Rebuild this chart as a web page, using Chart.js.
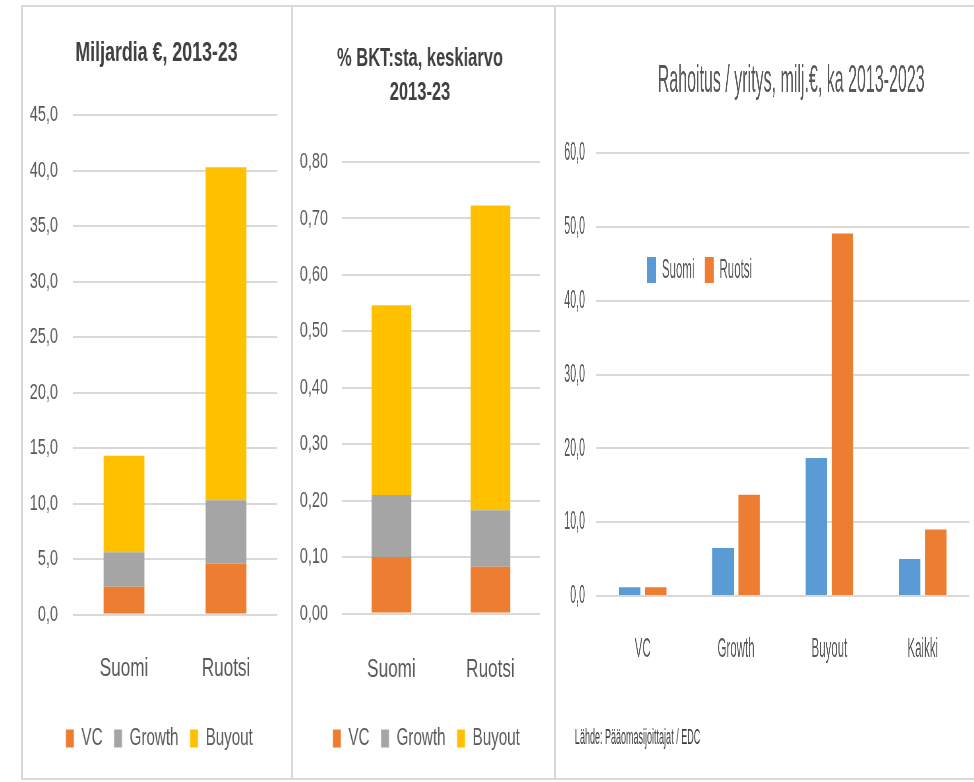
<!DOCTYPE html>
<html>
<head>
<meta charset="utf-8">
<script src="https://cdn.jsdelivr.net/npm/chart.js@4.4.0/dist/chart.umd.min.js"></script>
<style>
  html, body { margin: 0; padding: 0; background: #fff; }
  body { width: 974px; height: 782px; position: relative; overflow: hidden; }
  .frame { position: absolute; border: 2px solid #d9d9d9; box-sizing: border-box; }
  .wrap { position: absolute; top: 7px; height: 771px; transform-origin: 0 0; }
  .note { position: absolute; left: 46px; top: 717px; font: 22px 'Liberation Sans', sans-serif;
          line-height: 26px; color: #404040; white-space: nowrap; }
</style>
</head>
<body>
<div class="frame" style="left:21px;top:5px;width:272px;height:775px"></div>
<div class="frame" style="left:291px;top:5px;width:265px;height:775px"></div>
<div class="frame" style="left:554px;top:5px;width:440px;height:775px"></div>

<!-- text in the picture is very narrow, so each canvas is drawn wide and squeezed -->
<div class="wrap" style="left:22px;width:409px;transform:scaleX(0.66)"><canvas id="bn-chart"></canvas></div>
<div class="wrap" style="left:293px;width:397px;transform:scaleX(0.66)"><canvas id="gdp-chart"></canvas></div>
<div class="wrap" style="left:556px;width:1019.5px;transform:scaleX(0.41)">
  <canvas id="company-chart"></canvas>
  <div class="note">Lähde: Pääomasijoittajat / EDC</div>
</div>

<script>
// data
const countries = ['Suomi', 'Ruotsi'];
const vcBn = [2.5, 4.6];
const growthBn = [3.1, 5.7];
const buyoutBn = [8.7, 30.0];

const vcGdp = [0.10, 0.083];
const growthGdp = [0.11, 0.10];
const buyoutGdp = [0.336, 0.54];

const stages = ['VC', 'Growth', 'Buyout', 'Kaikki'];
const perCompanyFi = [1.2, 6.5, 18.7, 5.0];
const perCompanySe = [1.2, 13.7, 49.1, 9.0];

const ORANGE = '#ED7D31', GREY = '#A5A5A5', YELLOW = '#FFC000', BLUE = '#5B9BD5';

Chart.defaults.font.family = "'Liberation Sans', sans-serif";
Chart.defaults.color = '#595959';
Chart.defaults.animation = false;
Chart.defaults.plugins.tooltip.enabled = false;

const comma = (d) => (v) => Number(v).toFixed(d).replace('.', ',');

// nudges title / legend after layout (the picture centres them on the whole panel)
const placeBoxes = {
    id: 'placeBoxes',
    afterLayout(chart, args, opts) {
        const t = chart.titleBlock;
        const lg = chart.legend;
        if (t && opts.titleX !== undefined) {
            const w = t.right - t.left;
            t.left = opts.titleX - w / 2;
            t.right = t.left + w;
        }
        if (lg && opts.legendDx) {
            lg.left += opts.legendDx;
            lg.right += opts.legendDx;
        }
        if (lg && opts.legendAt) {
            const h = lg.height;
            lg.left = opts.legendAt.left;
            lg.top = opts.legendAt.top;
            lg.bottom = lg.top + h;
        }
    }
};

// stacked chart used by the two left panels
function stackedChart(id, title, vc, growth, buyout, yMax, yStep, decimals, dims) {
    return new Chart(document.getElementById(id), {
        type: 'bar',
        data: {
            labels: countries,
            datasets: [
                { label: 'VC', data: vc, backgroundColor: ORANGE },
                { label: 'Growth', data: growth, backgroundColor: GREY },
                { label: 'Buyout', data: buyout, backgroundColor: YELLOW }
            ]
        },
        plugins: [placeBoxes],
        options: {
            responsive: true,
            maintainAspectRatio: false,
            layout: { padding: { left: 0, right: dims.right, top: 0, bottom: 18 } },
            datasets: { bar: { barPercentage: 0.4, categoryPercentage: 1 } },
            plugins: {
                title: {
                    display: true,
                    text: title,
                    color: '#404040',
                    font: { size: dims.titleSize, weight: 'bold', lineHeight: dims.titleLine },
                    padding: { top: dims.titleTop, bottom: dims.titleBottom }
                },
                legend: {
                    position: 'bottom',
                    labels: { boxWidth: 12, boxHeight: 18, padding: 17.5, font: { size: 23 }, color: '#595959' }
                },
                placeBoxes: { titleX: dims.titleX, legendDx: 15 }
            },
            scales: {
                x: {
                    stacked: true,
                    grid: { display: false },
                    border: { display: false },
                    ticks: { font: { size: 26 }, padding: dims.xPad, color: '#595959' },
                    afterFit: (s) => { s.height = dims.xHeight; }
                },
                y: {
                    stacked: true,
                    min: 0,
                    max: yMax,
                    grid: { color: '#d9d9d9', lineWidth: 2, drawTicks: false },
                    border: { display: false },
                    ticks: { stepSize: yStep, font: { size: 22 }, padding: dims.yPad, color: '#595959', callback: comma(decimals) },
                    afterFit: (s) => { s.width = dims.yWidth; }
                }
            }
        }
    });
}

stackedChart('bn-chart', 'Miljardia €, 2013-23', vcBn, growthBn, buyoutBn, 45, 5, 1,
    { titleSize: 27, titleLine: 1.2, titleTop: 30.8, titleBottom: 44.8, xHeight: 95, xPad: 31,
      yWidth: 77.3, yPad: 22.8, right: 22.7, titleX: 203.8 });

stackedChart('gdp-chart', ['% BKT:sta, keskiarvo', '2013-23'], vcGdp, growthGdp, buyoutGdp, 0.8, 0.1, 2,
    { titleSize: 25, titleLine: 1.36, titleTop: 35, titleBottom: 52, xHeight: 96, xPad: 33,
      yWidth: 74.2, yPad: 21.2, right: 22.8, titleX: 192.4 });

new Chart(document.getElementById('company-chart'), {
    type: 'bar',
    data: {
        labels: stages,
        datasets: [
            { label: 'Suomi', data: perCompanyFi, backgroundColor: BLUE },
            { label: 'Ruotsi', data: perCompanySe, backgroundColor: ORANGE }
        ]
    },
    plugins: [placeBoxes],
    options: {
        responsive: true,
        maintainAspectRatio: false,
        layout: { padding: { left: 0, right: 12.2, top: 0, bottom: 44 } },
        datasets: { bar: { barPercentage: 0.82, categoryPercentage: 0.56 } },
        plugins: {
            title: {
                display: true,
                text: 'Rahoitus / yritys, milj.€, ka 2013-2023',
                color: '#595959',
                font: { size: 39, weight: 'normal', lineHeight: 1.2 },
                padding: { top: 50.6, bottom: 48.6 }
            },
            legend: {
                position: 'bottom',
                align: 'start',
                labels: { boxWidth: 22, boxHeight: 26, padding: 25, font: { size: 28 }, color: '#595959' }
            },
            // legend sits inside the plot in the picture
            placeBoxes: { titleX: 573, legendAt: { left: 197, top: 224 } }
        },
        scales: {
            x: {
                grid: { display: false },
                border: { display: false },
                ticks: { font: { size: 28 }, padding: 28, color: '#595959' },
                afterFit: (s) => { s.height = 75; }
            },
            y: {
                min: 0,
                max: 60,
                grid: { color: '#d9d9d9', lineWidth: 2, drawTicks: false },
                border: { display: false },
                ticks: { stepSize: 10, font: { size: 26 }, padding: 26.9, color: '#595959', callback: comma(1) },
                afterFit: (s) => { s.width = 97.6; }
            }
        }
    }
});
</script>
</body>
</html>
